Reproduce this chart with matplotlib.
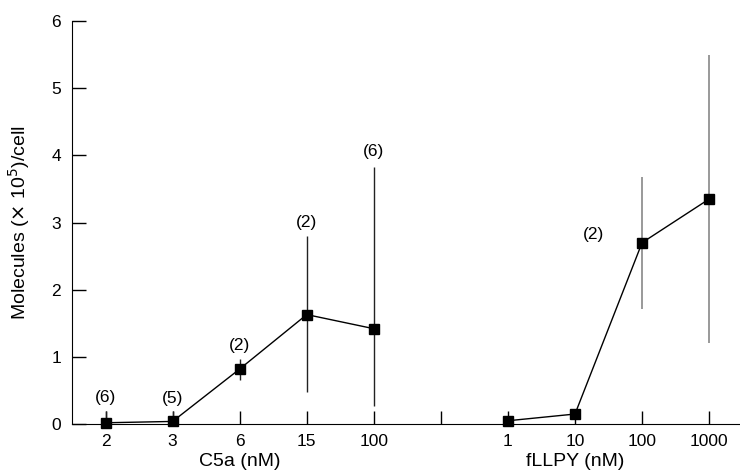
import matplotlib.pyplot as plt

plt.rcParams['font.family'] = ['Liberation Sans', 'DejaVu Sans']
plt.rcParams['font.size'] = 12.5

# C5a group
c5a_conc = ["2", "3", "6", "15", "100"]
c5a_mean = [0.02, 0.04, 0.82, 1.63, 1.42]
c5a_lo = [0.02, 0.04, 0.66, 0.48, 0.27]
c5a_hi = [0.20, 0.20, 0.97, 2.80, 3.83]
c5a_n = ["(6)", "(5)", "(2)", "(2)", "(6)"]
c5a_n_y = [0.40, 0.38, 1.17, 3.00, 4.05]

# fLLPY group
fllpy_conc = ["1", "10", "100", "1000"]
fllpy_mean = [0.05, 0.15, 2.70, 3.35]
fllpy_lo = [0.05, 0.15, 1.72, 1.20]
fllpy_hi = [0.05, 0.15, 3.68, 5.50]
fllpy_n = ["(2)"]
fllpy_n_pos = [(1.27, 2.82)]

c5a_x = list(range(len(c5a_conc)))
gap_x = len(c5a_conc)
fllpy_x = [gap_x + 1 + i for i in range(len(fllpy_conc))]

fig = plt.figure(figsize=(7.4, 4.76), dpi=100)
ax = fig.add_axes([0.0973, 0.109, 0.9027, 0.847])

# error bars
ax.vlines(c5a_x, c5a_lo, c5a_hi, color='#222222', lw=1)
ax.vlines(fllpy_x, fllpy_lo, fllpy_hi, color='#888888', lw=1.2)

ax.plot(c5a_x, c5a_mean, color='black', lw=1, marker='s', ms=7,
        mfc='black', mec='black', clip_on=False, zorder=3)
ax.plot(fllpy_x, fllpy_mean, color='black', lw=1, marker='s', ms=7,
        mfc='black', mec='black', clip_on=False, zorder=3)

for x, y, s in zip(c5a_x, c5a_n_y, c5a_n):
    ax.text(x, y, s, ha='center', va='center')
for (xo, y), s in zip(fllpy_n_pos, fllpy_n):
    ax.text(fllpy_x[0] + xo, y, s, ha='center', va='center')

ax.set_xlim(-0.5, 9.46)
ax.set_ylim(0, 6)
ax.set_xticks(c5a_x + [gap_x] + fllpy_x)
ax.set_xticklabels(c5a_conc + [""] + fllpy_conc)
ax.set_yticks(range(0, 7))

ax.tick_params(axis='x', direction='in', length=9.5, width=1, pad=7)
ax.tick_params(axis='y', direction='in', length=10, width=1, pad=8)
ax.spines['top'].set_visible(False)
ax.spines['right'].set_visible(False)

ax.set_ylabel(r"Molecules ($\times$ 10$^5$)/cell", fontsize=14, labelpad=14)
ax.text(2, -0.43, "C5a (nM)", ha='center', va='top', fontsize=14)
ax.text(7, -0.43, "fLLPY (nM)", ha='center', va='top', fontsize=14)

fig.savefig("out.png", dpi=100)
